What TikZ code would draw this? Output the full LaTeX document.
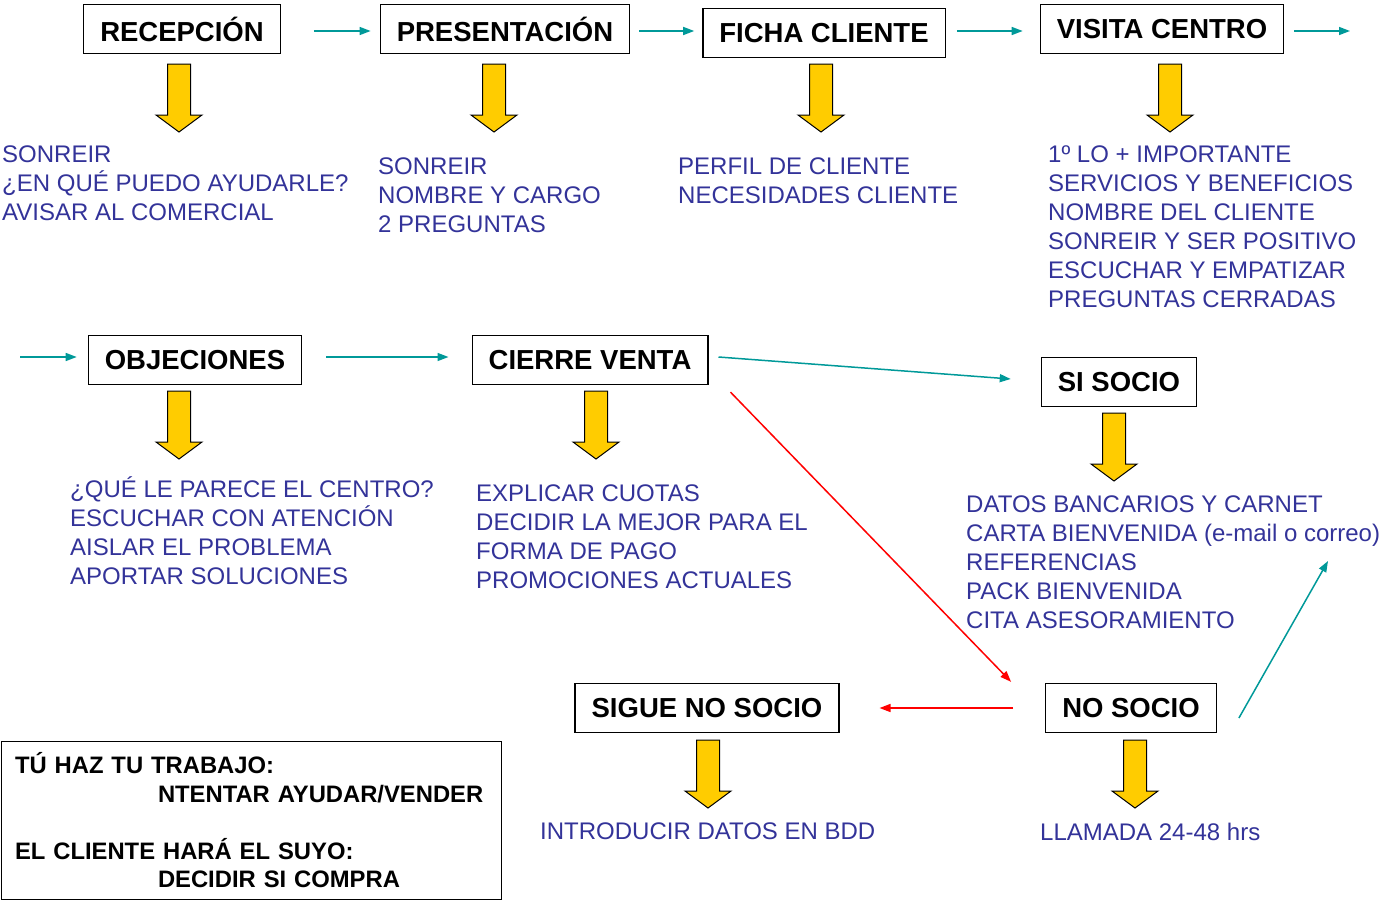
\documentclass[tikz,border=0pt]{standalone}
\usepackage{fontspec}
\setmainfont{Liberation Sans}
\usepackage{xcolor}
\usetikzlibrary{arrows.meta,calc}
\definecolor{tealline}{RGB}{0,153,153}
\definecolor{bluetext}{RGB}{51,51,153}
\definecolor{gold}{RGB}{255,204,0}

\begin{document}
\begin{tikzpicture}[x=1pt, y=-1pt,
  stage/.style={draw, line width=1.3pt, inner xsep=16.5pt, minimum height=49pt,
    font=\fontsize{27.5}{33}\selectfont\bfseries},
  notes/.style={anchor=north west, inner sep=0pt, align=left, text=bluetext,
    font=\fontsize{24}{29}\selectfont},
  flow/.style={->, line width=1.5pt, draw=tealline},
  fail/.style={->, line width=1.5pt, draw=red},
  bigarrow/.style={draw, line width=1pt, fill=gold, line join=miter},
  >={Triangle[length=11pt,width=8pt]},
]
\useasboundingbox (0,0) rectangle (1380,899);

% stages
\node[stage] (rec) at (182,29) {RECEPCIÓN};
\node[stage] (pre) at (505,29) {PRESENTACIÓN};
\node[stage] (fic) at (824,33) {FICHA CLIENTE};
\node[stage] (vis) at (1162,29) {VISITA CENTRO};
\node[stage] (obj) at (195,360) {OBJECIONES};
\node[stage] (cie) at (590,360) {CIERRE VENTA};
\node[stage] (si) at (1119,382) {SI SOCIO};
\node[stage] (sig) at (707,708) {SIGUE NO SOCIO};
\node[stage] (no) at (1131,708) {NO SOCIO};

% what to do at each stage
\node[notes] (trec) at (2,146) {SONREIR\\¿EN QUÉ PUEDO AYUDARLE?\\AVISAR AL COMERCIAL};
\node[notes] (tpre) at (378,158) {SONREIR\\NOMBRE Y CARGO\\2 PREGUNTAS};
\node[notes] (tfic) at (678,158) {PERFIL DE CLIENTE\\NECESIDADES CLIENTE};
\node[notes] (tvis) at (1048,146) {1º LO + IMPORTANTE\\SERVICIOS Y BENEFICIOS\\NOMBRE DEL CLIENTE\\SONREIR Y SER POSITIVO\\ESCUCHAR Y EMPATIZAR\\PREGUNTAS CERRADAS};
\node[notes] (tobj) at (70,476) {¿QUÉ LE PARECE EL CENTRO?\\ESCUCHAR CON ATENCIÓN\\AISLAR EL PROBLEMA\\APORTAR SOLUCIONES};
\node[notes] (tcie) at (476,485) {EXPLICAR CUOTAS\\DECIDIR LA MEJOR PARA EL\\FORMA DE PAGO\\PROMOCIONES ACTUALES};
\node[notes] (tsi) at (966,496) {DATOS BANCARIOS Y CARNET\\CARTA BIENVENIDA (e-mail o correo)\\REFERENCIAS\\PACK BIENVENIDA\\CITA ASESORAMIENTO};
\node[notes] (tsig) at (540,823) {INTRODUCIR DATOS EN BDD};
\node[notes] (tno) at (1040,823) {LLAMADA 24-48 hrs};

% reminder box
\node[draw, line width=1pt, anchor=north west, text width=472pt, align=left,
  inner xsep=14pt, inner ysep=11.5pt, font=\fontsize{23.8}{28.5}\selectfont\bfseries]
  (nota) at (0.5,740.5) {TÚ HAZ TU TRABAJO:\\\hspace*{143pt}NTENTAR AYUDAR/VENDER\\\mbox{}\\EL CLIENTE HARÁ EL SUYO:\\\hspace*{143pt}DECIDIR SI COMPRA};

% yellow arrows
\foreach \x/\y in {179/64, 494/64, 821/64, 1170/64, 179/391, 596/391, 1114/413, 708/740, 1135/740}
  \draw[bigarrow] (\x-11.5,\y) -- (\x+11.5,\y) -- (\x+11.5,\y+51) -- (\x+23,\y+51)
    -- (\x,\y+68) -- (\x-23,\y+51) -- (\x-11.5,\y+51) -- cycle;

% flow between stages
\coordinate (out) at (1350,31);
\coordinate (in) at (20,357);
\coordinate (back) at (1328,561);
\draw[flow, shorten <=33pt, shorten >=9pt] ([yshift=-2pt]rec.east) -- ([yshift=-2pt]pre.west);
\draw[flow, shorten <=9pt, shorten >=8pt] ([yshift=-2pt]pre.east) -- ([yshift=-2pt]pre.east -| fic.west);
\draw[flow, shorten <=11pt, shorten >=17pt] ([yshift=-2pt]vis.west -| fic.east) -- ([yshift=-2pt]vis.west);
\draw[flow, shorten <=10pt] (vis.east |- out) -- (out);
\draw[flow, shorten >=11pt] (in) -- (in -| obj.west);
\draw[flow, shorten <=24pt, shorten >=23pt] (obj.east |- in) -- (in -| cie.west);
\draw[flow] ($(cie.east)+(10,-3)$) -- ($(si.west)+(-30,-3)$);
\draw[fail] ($(cie.south east)+(22,7)$) -- ($(no.north west)+(-34,-1)$);
\draw[fail, shorten <=32pt, shorten >=40pt] (no.west) -- (no.west -| sig.east);
\draw[flow] ($(no.east)+(22,10)$) -- (back);
\end{tikzpicture}
\end{document}
